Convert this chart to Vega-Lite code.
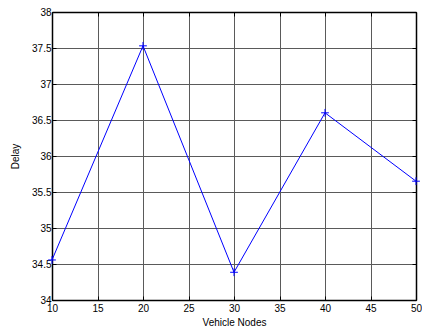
{
  "$schema": "https://vega.github.io/schema/vega-lite/v6.json",
  "autosize": {"type": "none"},
  "padding": {"left": 52, "top": 12, "right": 6, "bottom": 30},
  "width": 364,
  "height": 288,
  "background": "white",
  "config": {
    "view": {"stroke": "black", "strokeWidth": 1},
    "font": "Liberation Sans",
    "axis": {
      "labelFont": "Liberation Sans",
      "labelFontSize": 10,
      "labelColor": "black",
      "labelFlush": false,
      "labelOverlap": false,
      "format": "~g",
      "titleFont": "Liberation Sans",
      "titleFontSize": 10,
      "titleFontWeight": "normal",
      "titleColor": "black",
      "domainColor": "black",
      "domainWidth": 1.5,
      "tickColor": "black",
      "tickSize": -4,
      "gridColor": "#5a5a5a",
      "gridOpacity": 1,
      "gridWidth": 1
    }
  },
  "data": {"values": [
    {"nodes": 10, "delay": 34.556},
    {"nodes": 20, "delay": 37.53},
    {"nodes": 30, "delay": 34.385},
    {"nodes": 40, "delay": 36.6},
    {"nodes": 50, "delay": 35.65}
  ]},
  "layer": [
    {
      "mark": {"type": "line", "color": "#0000ff", "strokeWidth": 1},
      "encoding": {
        "x": {"field": "nodes", "type": "quantitative", "scale": {"domain": [10, 50], "nice": false, "zero": false},
              "axis": {"orient": "bottom", "values": [10,15,20,25,30,35,40,45,50], "title": "Vehicle Nodes", "titlePadding": 4, "labelPadding": 7, "grid": true}},
        "y": {"field": "delay", "type": "quantitative", "scale": {"domain": [34, 38], "nice": false, "zero": false},
              "axis": {"orient": "left", "values": [34,34.5,35,35.5,36,36.5,37,37.5,38], "title": "Delay", "titlePadding": 11, "labelPadding": 5, "grid": true}}
      }
    },
    {
      "mark": {"type": "point", "shape": "M-1,0L1,0M0,-1L0,1", "filled": false, "color": "#0000ff", "strokeWidth": 1, "size": 60, "opacity": 1},
      "encoding": {
        "x": {"field": "nodes", "type": "quantitative",
              "axis": {"orient": "top", "values": [10,15,20,25,30,35,40,45,50], "labels": false, "title": null, "grid": false}},
        "y": {"field": "delay", "type": "quantitative",
              "axis": {"orient": "right", "values": [34,34.5,35,35.5,36,36.5,37,37.5,38], "labels": false, "title": null, "grid": false}}
      }
    }
  ],
  "resolve": {"axis": {"x": "independent", "y": "independent"}}
}
